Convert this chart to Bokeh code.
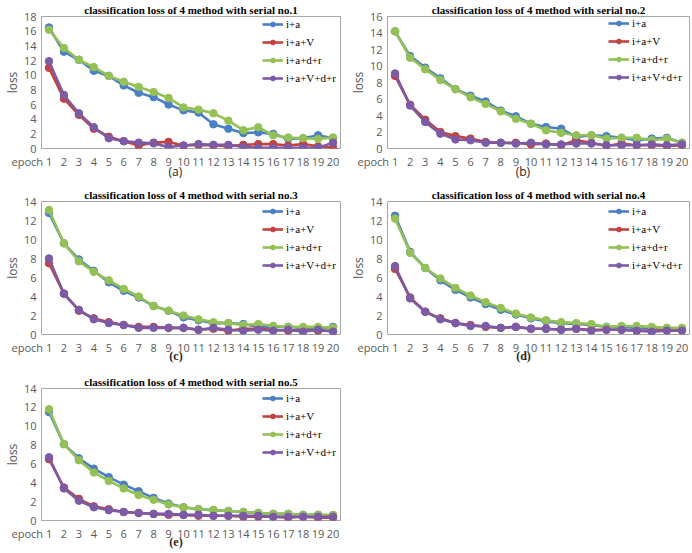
import math
from bokeh.plotting import figure
from bokeh.layouts import column, row
from bokeh.models import Legend, LegendItem, FixedTicker, Range1d, Title
from bokeh.embed import file_html
from bokeh.resources import INLINE

epochs = list(range(1, 21))
methods = ["i+a", "i+a+V", "i+a+d+r", "i+a+V+d+r"]
colors = ["#4a7fc6", "#c3423f", "#94c155", "#7b5aa6"]

# serial no.1
s1_ia = [16.5, 13.2, 12.1, 10.6, 9.9, 8.6, 7.6, 7.0, 6.0, 5.2, 4.9, 3.3, 2.7, 2.1, 2.2, 2.0, 1.3, 1.4, 1.8, 1.4]
s1_iav = [11.0, 6.8, 4.6, 2.7, 1.6, 1.0, 0.4, 0.8, 0.9, 0.4, 0.5, 0.4, 0.3, 0.5, 0.6, 0.6, 0.4, 0.6, 0.3, 0.1]
s1_iadr = [16.2, 13.7, 12.1, 11.1, 9.9, 9.1, 8.4, 7.7, 6.9, 5.6, 5.3, 4.8, 3.8, 2.5, 2.9, 1.8, 1.5, 1.4, 1.3, 1.5]
s1_iavdr = [11.9, 7.3, 4.8, 2.9, 1.4, 1.0, 0.8, 0.7, 0.2, 0.4, 0.6, 0.5, 0.5, 0.2, 0.1, 0.1, 0.1, 0.1, 0.1, 0.8]

# serial no.2
s2_ia = [14.2, 11.2, 9.8, 8.5, 7.2, 6.4, 5.7, 4.6, 3.9, 3.0, 2.6, 2.4, 1.4, 1.6, 1.5, 1.3, 1.0, 1.2, 1.3, 0.7]
s2_iav = [8.8, 5.3, 3.5, 2.0, 1.5, 1.2, 0.8, 0.7, 0.7, 0.5, 0.6, 0.4, 1.0, 0.7, 0.3, 0.6, 0.4, 0.4, 0.3, 0.4]
s2_iadr = [14.2, 11.0, 9.6, 8.3, 7.2, 6.2, 5.4, 4.5, 3.6, 3.0, 2.2, 1.9, 1.6, 1.6, 1.2, 1.3, 1.3, 1.0, 1.2, 0.7]
s2_iavdr = [9.1, 5.2, 3.2, 1.8, 1.1, 1.0, 0.7, 0.7, 0.6, 0.7, 0.5, 0.5, 0.6, 0.6, 0.4, 0.4, 0.4, 0.5, 0.4, 0.5]

# serial no.3
s3_ia = [12.8, 9.6, 7.9, 6.7, 5.5, 4.6, 3.9, 3.0, 2.5, 1.8, 1.5, 1.2, 1.2, 1.1, 0.8, 0.8, 0.8, 0.7, 0.6, 0.8]
s3_iav = [7.5, 4.3, 2.5, 1.7, 1.3, 1.0, 0.8, 0.8, 0.7, 0.7, 0.5, 0.6, 0.4, 0.6, 0.6, 0.5, 0.4, 0.5, 0.4, 0.4]
s3_iadr = [13.1, 9.6, 7.7, 6.6, 5.7, 4.8, 4.0, 3.0, 2.5, 2.0, 1.6, 1.3, 1.2, 1.0, 1.1, 0.9, 0.8, 0.8, 0.8, 0.7]
s3_iavdr = [8.0, 4.3, 2.6, 1.6, 1.2, 1.0, 0.7, 0.7, 0.7, 0.7, 0.5, 0.7, 0.5, 0.4, 0.5, 0.4, 0.5, 0.3, 0.5, 0.3]

# serial no.4
s4_ia = [12.5, 8.7, 7.0, 5.7, 4.7, 3.9, 3.2, 2.6, 2.1, 1.7, 1.4, 1.2, 1.1, 1.0, 0.8, 0.8, 0.7, 0.6, 0.6, 0.6]
s4_iav = [6.9, 3.9, 2.4, 1.7, 1.2, 1.0, 0.8, 0.7, 0.8, 0.6, 0.6, 0.5, 0.6, 0.5, 0.5, 0.5, 0.4, 0.4, 0.5, 0.5]
s4_iadr = [12.2, 8.6, 7.0, 5.9, 4.9, 4.1, 3.4, 2.8, 2.2, 1.8, 1.5, 1.3, 1.2, 1.1, 0.8, 0.9, 0.9, 0.8, 0.7, 0.7]
s4_iavdr = [7.2, 3.8, 2.4, 1.6, 1.2, 0.9, 0.9, 0.7, 0.8, 0.6, 0.6, 0.5, 0.6, 0.4, 0.5, 0.5, 0.4, 0.3, 0.4, 0.4]

# serial no.5
s5_ia = [11.5, 8.1, 6.6, 5.5, 4.6, 3.8, 3.1, 2.4, 1.8, 1.4, 1.2, 1.1, 1.0, 0.9, 0.8, 0.7, 0.7, 0.6, 0.6, 0.5]
s5_iav = [6.5, 3.5, 2.3, 1.5, 1.2, 0.9, 0.8, 0.7, 0.6, 0.6, 0.5, 0.5, 0.5, 0.4, 0.4, 0.4, 0.3, 0.4, 0.3, 0.3]
s5_iadr = [11.8, 8.1, 6.4, 5.1, 4.2, 3.4, 2.7, 2.2, 1.7, 1.4, 1.2, 1.1, 1.0, 0.9, 0.8, 0.7, 0.7, 0.6, 0.6, 0.6]
s5_iavdr = [6.7, 3.4, 2.1, 1.4, 1.1, 0.9, 0.8, 0.7, 0.7, 0.6, 0.6, 0.5, 0.5, 0.5, 0.5, 0.4, 0.4, 0.4, 0.4, 0.4]

y_max = [18, 16, 14, 14, 14]
captions = ["(a)", "(b)", "(c)", "(d)", "(e)"]
series = [
    [s1_ia, s1_iav, s1_iadr, s1_iavdr],
    [s2_ia, s2_iav, s2_iadr, s2_iavdr],
    [s3_ia, s3_iav, s3_iadr, s3_iavdr],
    [s4_ia, s4_iav, s4_iadr, s4_iavdr],
    [s5_ia, s5_iav, s5_iadr, s5_iavdr],
]

GREY = "#595959"
SANS = "Open Sans"
SERIF = "Liberation Serif"
NBSP = "\u00a0"

# (height, border_top, border_left, border_right, serif caption)
geometry = [
    (182, 15, 35, 6, False),
    (182, 14, 39, 3, False),
    (185, 19, 35, 6, True),
    (185, 19, 39, 3, True),
    (186, 21, 35, 6, True),
]


def panel(k):
    height, top, left, right, serif_cap = geometry[k]
    ymax = y_max[k]
    p = figure(width=346, height=height, output_backend="svg", toolbar_location=None,
               x_range=Range1d(0.5, 20.5), y_range=Range1d(0, ymax),
               min_border_top=top, min_border_left=left, min_border_right=right,
               min_border_bottom=33)
    p.background_fill_color = "white"
    p.border_fill_color = "white"
    p.outline_line_color = "#a6a6a6"
    p.outline_line_width = 1
    p.xgrid.visible = False
    p.ygrid.visible = False

    p.title = Title(text=f"classification loss of 4 method with serial no.{k + 1}",
                    align="center", standoff=2, text_font=SERIF, text_font_size="11px",
                    text_font_style="bold", text_color="black")

    for ax in (p.xaxis[0], p.yaxis[0]):
        ax.axis_line_color = None
        ax.major_tick_line_color = None
        ax.minor_tick_line_color = None
        ax.major_tick_out = 0
        ax.major_tick_in = 0
        ax.major_label_text_font = SANS
        ax.major_label_text_font_size = "11px"
        ax.major_label_text_color = GREY
    p.xaxis.ticker = FixedTicker(ticks=epochs)
    p.yaxis.ticker = FixedTicker(ticks=list(range(0, ymax + 1, 2)))
    p.xaxis.major_label_standoff = 5
    p.yaxis.major_label_standoff = 5
    # the x-axis name sits on the tick row, just left of the first epoch;
    # right padding keeps the "1" centred on its tick
    p.xaxis.major_label_overrides = {1: "epoch" + NBSP + "1" + NBSP * 12}

    p.yaxis.axis_label = "loss"
    p.yaxis.axis_label_standoff = 0
    p.yaxis.axis_label_text_font = SANS
    p.yaxis.axis_label_text_font_size = "12px"
    p.yaxis.axis_label_text_font_style = "normal"
    p.yaxis.axis_label_text_color = GREY

    p.xaxis.axis_label = captions[k] + NBSP * 10
    p.xaxis.axis_label_standoff = -9
    p.xaxis.axis_label_text_font = SERIF if serif_cap else SANS
    p.xaxis.axis_label_text_font_style = "bold" if serif_cap else "normal"
    p.xaxis.axis_label_text_font_size = "12px"
    p.xaxis.axis_label_text_color = "#262626"

    items = []
    for name, vals, col in zip(methods, series[k], colors):
        ln = p.line(epochs, vals, line_color=col, line_width=2.6)
        sc = p.scatter(epochs, vals, size=7.5, fill_color=col, line_color=col)
        items.append(LegendItem(label=name, renderers=[ln, sc]))

    frame_h = height - top - 33
    legend = Legend(items=items, location=(221, frame_h - 70), glyph_width=21, glyph_height=12,
                    label_height=12, label_standoff=3, spacing=6, padding=0, margin=0,
                    border_line_color=None, background_fill_alpha=0,
                    label_text_font=SERIF, label_text_font_size="11px",
                    label_text_color="black")
    p.add_layout(legend)
    return p


panels = [panel(k) for k in range(5)]
layout = column(row(panels[0], panels[1]), row(panels[2], panels[3]), row(panels[4]))

with open("out.html", "w") as f:
    f.write(file_html(layout, INLINE))
